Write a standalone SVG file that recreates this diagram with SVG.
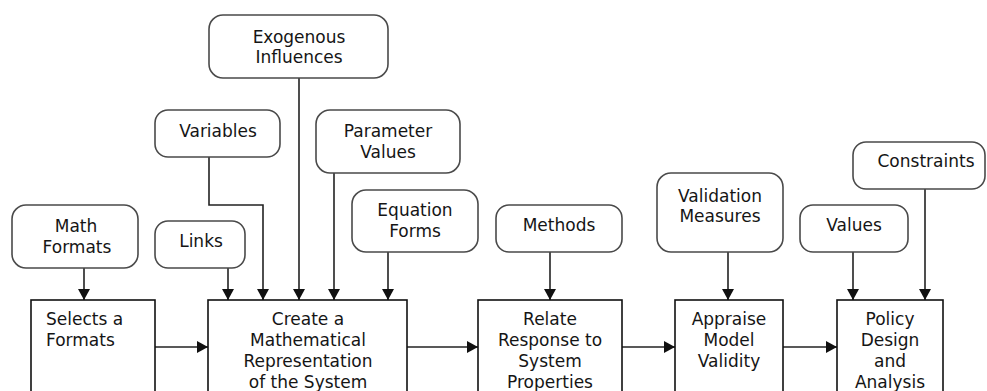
<svg xmlns="http://www.w3.org/2000/svg" width="987" height="391" viewBox="0 0 987 391">
<defs>
<style>
.rb{fill:#fff;stroke:#4a4a4a;stroke-width:1.6}
.bx{fill:#fff;stroke:#111;stroke-width:1.6}
.t{font-family:"DejaVu Sans","Verdana",sans-serif;font-size:17px;fill:#151515;text-anchor:middle}
.tl{font-family:"DejaVu Sans","Verdana",sans-serif;font-size:17px;fill:#151515;text-anchor:start}
.c{fill:none;stroke:#222;stroke-width:1.6;marker-end:url(#ah)}
</style>
<marker id="ah" markerUnits="userSpaceOnUse" markerWidth="12" markerHeight="12" refX="11" refY="6" orient="auto">
<path d="M0,0 L11,6 L0,12 Z" fill="#111"/>
</marker>
</defs>
<rect width="987" height="391" fill="#fff"/>

<g id="connectors">
<path class="c" d="M84,268 V300"/>
<path class="c" d="M228,268 V300"/>
<path class="c" d="M209,157 V205 H263 V300"/>
<path class="c" d="M299,78 V300"/>
<path class="c" d="M334,173 V300"/>
<path class="c" d="M388,252 V300"/>
<path class="c" d="M550,252 V300"/>
<path class="c" d="M728,252 V300"/>
<path class="c" d="M853,252 V300"/>
<path class="c" d="M925,189 V300"/>
<path class="c" d="M155,347 H208"/>
<path class="c" d="M407,347 H478"/>
<path class="c" d="M622,347 H675"/>
<path class="c" d="M783,347 H837"/>
</g>

<g id="exogenous">
<rect class="rb" x="209" y="15" width="179" height="63" rx="14"/>
<text class="t" x="299" y="43">Exogenous</text>
<text class="t" x="299" y="63">Influences</text>
</g>
<g id="variables">
<rect class="rb" x="155" y="110" width="125" height="47" rx="13"/>
<text class="t" x="218" y="137">Variables</text>
</g>
<g id="parameter-values">
<rect class="rb" x="316" y="110" width="144" height="63" rx="14"/>
<text class="t" x="388" y="137">Parameter</text>
<text class="t" x="388" y="158">Values</text>
</g>
<g id="equation-forms">
<rect class="rb" x="352" y="190" width="126" height="62" rx="14"/>
<text class="t" x="415" y="216">Equation</text>
<text class="t" x="415" y="237">Forms</text>
</g>
<g id="math-formats">
<rect class="rb" x="12" y="205" width="126" height="63" rx="14"/>
<text class="t" x="76" y="232">Math</text>
<text class="t" x="77" y="253">Formats</text>
</g>
<g id="links">
<rect class="rb" x="155" y="221" width="90" height="47" rx="13"/>
<text class="t" x="201" y="247">Links</text>
</g>
<g id="methods">
<rect class="rb" x="496" y="205" width="126" height="47" rx="13"/>
<text class="t" x="559" y="231">Methods</text>
</g>
<g id="validation-measures">
<rect class="rb" x="657" y="173" width="126" height="79" rx="14"/>
<text class="t" x="720" y="202">Validation</text>
<text class="t" x="720" y="222">Measures</text>
</g>
<g id="values">
<rect class="rb" x="800" y="205" width="108" height="47" rx="13"/>
<text class="t" x="854" y="231">Values</text>
</g>
<g id="constraints">
<rect class="rb" x="853" y="142" width="132" height="47" rx="13"/>
<text class="t" x="926" y="167">Constraints</text>
</g>

<g id="selects-formats">
<rect class="bx" x="31" y="300" width="124" height="110"/>
<text class="tl" x="46" y="325">Selects a</text>
<text class="tl" x="46" y="346">Formats</text>
</g>
<g id="create-representation">
<rect class="bx" x="208" y="300" width="199" height="110"/>
<text class="t" x="308" y="325">Create a</text>
<text class="t" x="308" y="346">Mathematical</text>
<text class="t" x="308" y="367">Representation</text>
<text class="t" x="308" y="388">of the System</text>
</g>
<g id="relate-response">
<rect class="bx" x="478" y="300" width="144" height="110"/>
<text class="t" x="550" y="325">Relate</text>
<text class="t" x="550" y="346">Response to</text>
<text class="t" x="550" y="367">System</text>
<text class="t" x="550" y="388">Properties</text>
</g>
<g id="appraise-validity">
<rect class="bx" x="675" y="300" width="108" height="110"/>
<text class="t" x="729" y="325">Appraise</text>
<text class="t" x="729" y="346">Model</text>
<text class="t" x="729" y="367">Validity</text>
</g>
<g id="policy-design">
<rect class="bx" x="837" y="300" width="106" height="110"/>
<text class="t" x="890" y="325">Policy</text>
<text class="t" x="890" y="346">Design</text>
<text class="t" x="890" y="367">and</text>
<text class="t" x="890" y="388">Analysis</text>
</g>
</svg>
